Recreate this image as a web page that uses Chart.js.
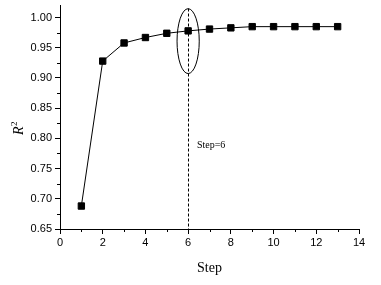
<!DOCTYPE html>
<html>
<head>
<meta charset="utf-8">
<script src="https://cdn.jsdelivr.net/npm/chart.js@4"></script>
<style>
  html, body { margin: 0; padding: 0; background: #fff; }
  #wrap { width: 381px; height: 285px; }
</style>
</head>
<body>
<div id="wrap"><canvas id="c"></canvas></div>
<script>
const steps = [1, 2, 3, 4, 5, 6, 7, 8, 9, 10, 11, 12, 13]
const r2    = [0.688, 0.928, 0.958, 0.967, 0.974, 0.978, 0.981, 0.983, 0.985, 0.985, 0.985, 0.985, 0.985]
const xTicks = [0, 2, 4, 6, 8, 10, 12, 14]
const yTicks = [0.65, 0.70, 0.75, 0.80, 0.85, 0.90, 0.95, 1.00]
const xMinorTicks = [1, 3, 5, 7, 9, 11, 13]
const yMinorTicks = [0.675, 0.725, 0.775, 0.825, 0.875, 0.925, 0.975]
const markStep  = 6
const markLabel = 'Step=6'

const SERIF = '"Liberation Serif", "Times New Roman", serif'
const SANS  = '"Liberation Sans", Arial, sans-serif'

const extras = {
  id: 'extras',
  afterDraw(chart) {
    const { ctx, scales: { x, y } } = chart
    ctx.save()
    ctx.strokeStyle = '#000'
    ctx.lineWidth = 1

    // minor ticks
    ctx.beginPath()
    yMinorTicks.forEach(v => {
      const py = Math.round(y.getPixelForValue(v)) + 0.5
      ctx.moveTo(x.left - 3, py); ctx.lineTo(x.left, py)
    })
    xMinorTicks.forEach(v => {
      const px = Math.round(x.getPixelForValue(v)) + 0.5
      ctx.moveTo(px, y.bottom); ctx.lineTo(px, y.bottom + 3)
    })
    ctx.stroke()

    // dotted marker line
    const mx = Math.round(x.getPixelForValue(markStep)) + 0.5
    ctx.setLineDash([3, 2])
    ctx.beginPath()
    ctx.moveTo(mx, y.getPixelForValue(1.015))
    ctx.lineTo(mx, y.bottom)
    ctx.stroke()
    ctx.setLineDash([])

    // ellipse round the chosen step
    const cx = x.getPixelForValue(markStep)
    const cy = y.getPixelForValue(0.961)
    const rx = x.getPixelForValue(markStep + 0.52) - cx
    const ry = cy - y.getPixelForValue(0.961 + 0.0537)
    ctx.beginPath()
    ctx.ellipse(cx, cy, rx, ry, 0, 0, Math.PI * 2)
    ctx.stroke()

    // marker label
    ctx.fillStyle = '#000'
    ctx.font = '10px ' + SERIF
    ctx.textAlign = 'left'
    ctx.textBaseline = 'middle'
    ctx.fillText(markLabel, x.getPixelForValue(6.41), y.getPixelForValue(0.789))

    // y axis title R^2
    ctx.translate(23, 128)
    ctx.rotate(-Math.PI / 2)
    ctx.textBaseline = 'alphabetic'
    ctx.font = 'italic 14px ' + SERIF
    const w = ctx.measureText('R').width
    ctx.fillText('R', -7, 0)
    ctx.font = '9px ' + SERIF
    ctx.fillText('2', -7 + w + 0.5, -6)
    ctx.restore()
  }
}

new Chart(document.getElementById('c'), {
  type: 'line',
  data: {
    labels: steps,
    datasets: [{
      data: steps.map((s, i) => ({ x: s, y: r2[i] })),
      borderColor: '#000',
      borderWidth: 1,
      pointStyle: 'rect',
      pointRadius: 4.5,
      pointBorderWidth: 1,
      pointBackgroundColor: '#000',
      pointBorderColor: '#000',
      tension: 0,
    }],
  },
  options: {
    responsive: true,
    maintainAspectRatio: false,
    animation: false,
    layout: { padding: { left: 0, right: 22, top: 5, bottom: 0 } },
    plugins: {
      legend: { display: false },
      tooltip: { enabled: false },
    },
    scales: {
      x: {
        type: 'linear',
        min: 0,
        max: 14,
        afterBuildTicks: s => { s.ticks = xTicks.map(v => ({ value: v })) },
        ticks: { color: '#000', font: { family: SANS, size: 11 }, padding: 2, maxRotation: 0 },
        grid: { drawOnChartArea: false, color: '#000', tickLength: 5, tickColor: '#000' },
        border: { color: '#000', width: 1 },
        title: { display: true, text: 'Step', color: '#000', font: { family: SERIF, size: 14 }, padding: { top: 6, bottom: 8 } },
        afterFit: s => { s.height = 56 },
      },
      y: {
        min: 0.65,
        max: 1.02,
        afterBuildTicks: s => { s.ticks = yTicks.map(v => ({ value: v })) },
        ticks: { color: '#000', font: { family: SANS, size: 11 }, padding: 3,
                 callback: v => v.toFixed(2) },
        grid: { drawOnChartArea: false, color: '#000', tickLength: 5, tickColor: '#000' },
        border: { color: '#000', width: 1 },
        afterFit: s => { s.width = 60; s.paddingTop = 0; s.paddingBottom = 0 },
      },
    },
  },
  plugins: [extras],
})
</script>
</body>
</html>
